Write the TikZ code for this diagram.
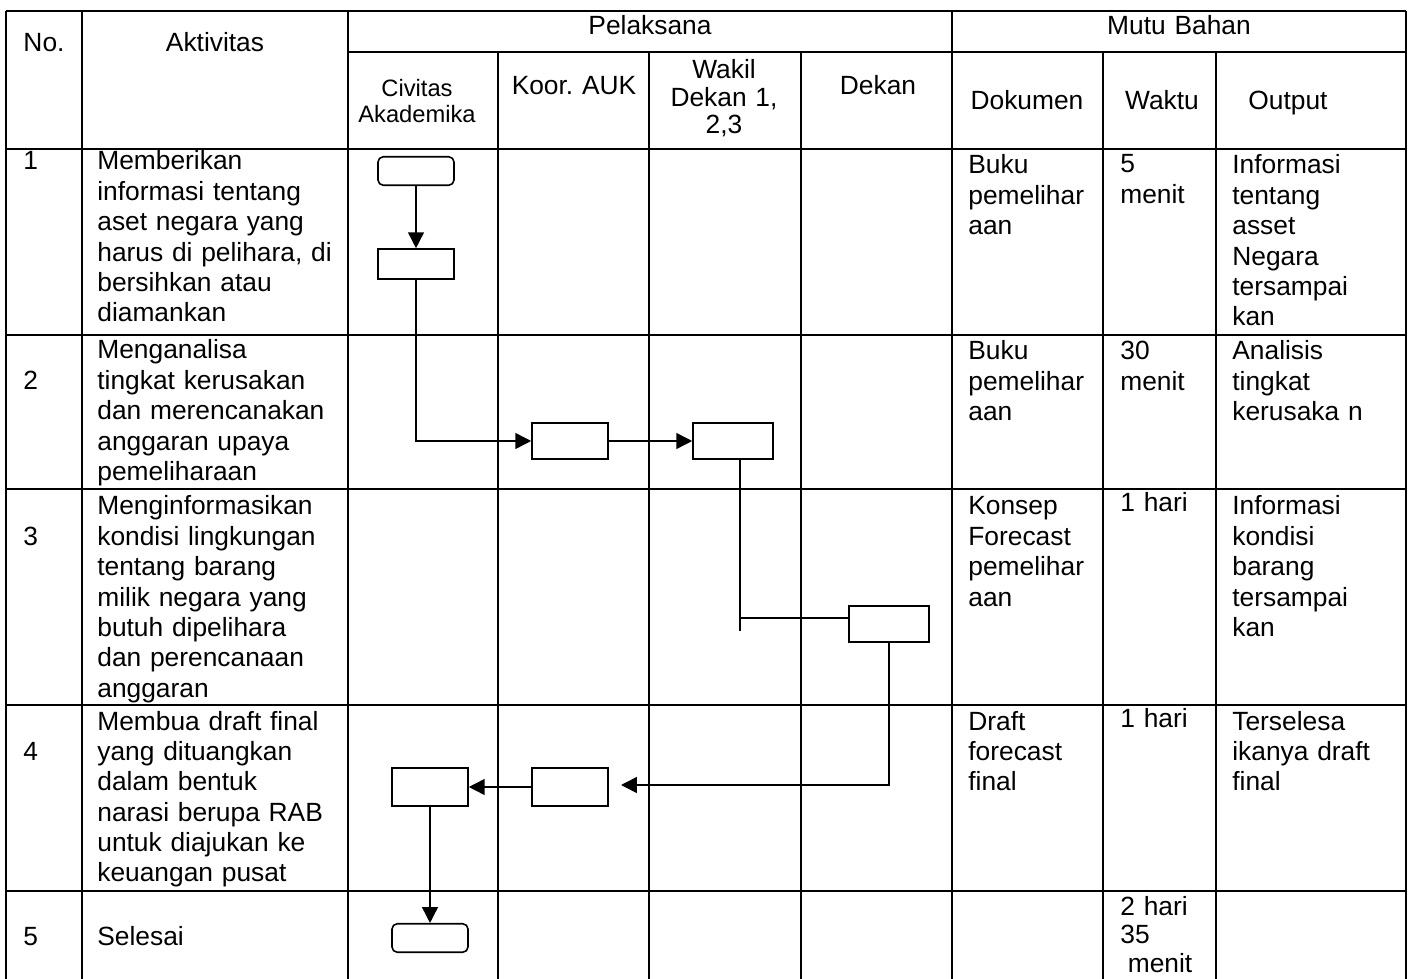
\documentclass[tikz,border=0pt]{standalone}
\usepackage{fontspec}
\setmainfont{Liberation Sans}
\usetikzlibrary{arrows.meta}
\frenchspacing

\tikzstyle{tabline} = [line width=1.1pt]
\tikzstyle{head} = [anchor=base, text width=3cm, align=center, inner sep=0pt, font=\fontsize{15}{17.3}\selectfont]
\tikzstyle{cell} = [anchor=base west, text width=6cm, align=left, inner sep=0pt, font=\fontsize{15}{17.3}\selectfont]
\tikzstyle{proc} = [draw, line width=0.9pt, minimum width=1.52cm, minimum height=0.72cm, inner sep=0pt]
\tikzstyle{term} = [proc, rounded corners=3pt, minimum height=0.57cm]
\tikzstyle{flow} = [line width=0.9pt, -{Triangle[length=9pt, width=9pt]}]
\tikzstyle{link} = [line width=0.9pt]

\begin{document}
\begin{tikzpicture}[x=0.02cm, y=-0.02cm]
\useasboundingbox (0,0) rectangle (1410,979);
%begin tabel
\draw[tabline] (6,11) -- (1406,11);
\draw[tabline] (348,52) -- (1406,52);
\draw[tabline] (6,149) -- (1406,149);
\draw[tabline] (6,335) -- (1406,335);
\draw[tabline] (6,489) -- (1406,489);
\draw[tabline] (6,705) -- (1406,705);
\draw[tabline] (6,891) -- (1406,891);
\draw[tabline] (6,11) -- (6,979);
\draw[tabline] (82,11) -- (82,979);
\draw[tabline] (348,11) -- (348,979);
\draw[tabline] (952,11) -- (952,979);
\draw[tabline] (1406,11) -- (1406,979);
\draw[tabline] (498,52) -- (498,979);
\draw[tabline] (649,52) -- (649,979);
\draw[tabline] (801,52) -- (801,979);
\draw[tabline] (1103,52) -- (1103,979);
\draw[tabline] (1216,52) -- (1216,979);
%end tabel

%begin header
\node[head] (hno) at (44,52) {No.};
\node[head] (hakt) at (215,52) {Aktivitas};
\node[head] (hpel) at (650,35) {Pelaksana};
\node[head] (hmutu) at (1179,35) {Mutu Bahan};
\node[head, font=\fontsize{13.5}{14.7}\selectfont] (hciv) at (417,97) {Civitas\\Akademika};
\node[head] (hkoor) at (574,95) {Koor. AUK};
\node[head, font=\fontsize{15}{15.6}\selectfont] (hwakil) at (724,79) {Wakil\\Dekan 1,\\2,3};
\node[head] (hdekan) at (878,95) {Dekan};
\node[head] (hdok) at (1027,110) {Dokumen};
\node[head] (hwaktu) at (1162,110) {Waktu};
\node[head] (hout) at (1288,110) {Output};
%end header

%begin baris1
\node[cell] (no1) at (23,170) {1};
\node[cell] (akt1) at (97,170) {Memberikan\\informasi tentang\\aset negara yang\\harus di pelihara, di\\bersihkan atau\\diamankan};
\node[cell] (dok1) at (968,174) {Buku\\pemelihar\\aan};
\node[cell] (wkt1) at (1120,173) {5\\menit};
\node[cell] (out1) at (1232,174) {Informasi\\tentang\\asset\\Negara\\tersampai\\kan};
%end baris1

%begin baris2
\node[cell] (no2) at (23,390) {2};
\node[cell] (akt2) at (97,359) {Menganalisa\\tingkat kerusakan\\dan merencanakan\\anggaran upaya\\pemeliharaan};
\node[cell] (dok2) at (968,360) {Buku\\pemelihar\\aan};
\node[cell] (wkt2) at (1120,360) {30\\menit};
\node[cell] (out2) at (1232,360) {Analisis\\tingkat\\kerusaka n};
%end baris2

%begin baris3
\node[cell] (no3) at (23,546) {3};
\node[cell] (akt3) at (97,515) {Menginformasikan\\kondisi lingkungan\\tentang barang\\milik negara yang\\butuh dipelihara\\dan perencanaan\\anggaran};
\node[cell] (dok3) at (968,515) {Konsep\\Forecast\\pemelihar\\aan};
\node[cell] (wkt3) at (1120,512) {1 hari};
\node[cell] (out3) at (1232,515) {Informasi\\kondisi\\barang\\tersampai\\kan};
%end baris3

%begin baris4
\node[cell] (no4) at (23,760) {4};
\node[cell] (akt4) at (97,730) {Membua draft final\\yang dituangkan\\dalam bentuk\\narasi berupa RAB\\untuk diajukan ke\\keuangan pusat};
\node[cell] (dok4) at (968,730) {Draft\\forecast\\final};
\node[cell] (wkt4) at (1120,727) {1 hari};
\node[cell] (out4) at (1232,730) {Terselesa\\ikanya draft\\final};
%end baris4

%begin baris5
\node[cell] (no5) at (23,945) {5};
\node[cell] (akt5) at (97,945) {Selesai};
\node[cell, font=\fontsize{15}{16.5}\selectfont] (wkt5) at (1120,915) {2 hari\\35\\\hspace*{0.15cm}menit};
%end baris5

%begin alur
\node[term] (mulai) at (416,171) {};
\node[proc, minimum height=0.6cm] (c1) at (416,264) {};
\node[proc] (k2) at (570,441) {};
\node[proc, minimum width=1.6cm] (w2) at (733,441) {};
\node[proc, minimum width=1.6cm] (d3) at (889,624) {};
\node[proc, minimum height=0.76cm] (k4) at (570,787) {};
\node[proc, minimum height=0.76cm] (c4) at (430,787) {};
\node[term] (selesai) at (430,938) {};
\coordinate (cabang) at (740,618);
\coordinate (ujung) at (740,631);
\coordinate (panah4) at (621,785);
\draw[flow] (mulai) -- (c1);
\draw[flow] (c1.south) |- (k2.west);
\draw[flow] (k2) -- (w2);
\draw[link] (w2.south -| ujung) -- (ujung);
\draw[link] (cabang) -- (cabang -| d3.west);
\draw[flow] (d3.south) |- (panah4);
\draw[flow] (k4) -- (c4);
\draw[flow] (c4) -- (selesai);
%end alur
\end{tikzpicture}
\end{document}
